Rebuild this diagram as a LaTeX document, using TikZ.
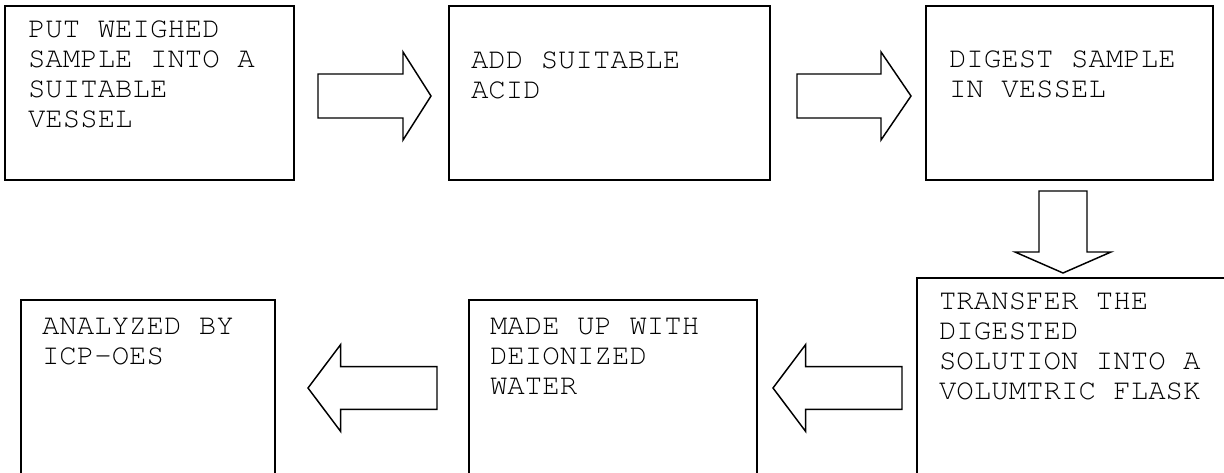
\documentclass[tikz,border=0pt]{standalone}
\usepackage{fontspec}
\setmainfont{TeX Gyre Cursor}
\usetikzlibrary{calc,fit}
\begin{document}
\begin{tikzpicture}[x=0.75pt,y=-0.75pt,
  box/.style={draw, line width=1.5pt, inner sep=0pt, outer sep=0pt, rectangle},
  txt/.style={anchor=base west, inner sep=0pt, outer sep=0pt, font=\fontsize{21.8pt}{22.5pt}\selectfont},
  barrow/.style n args={3}{draw, line width=1.1pt, line join=miter, to path={
    ($(\tikztostart)!#1!90:(\tikztotarget)$)
    -- ($(\tikztotarget)!#3!(\tikztostart)!#1!90:(\tikztotarget)$)
    -- ($(\tikztotarget)!#3!(\tikztostart)!#2!90:(\tikztotarget)$)
    -- (\tikztotarget)
    -- ($(\tikztotarget)!#3!(\tikztostart)!#2!-90:(\tikztotarget)$)
    -- ($(\tikztotarget)!#3!(\tikztostart)!#1!-90:(\tikztotarget)$)
    -- ($(\tikztostart)!#1!-90:(\tikztotarget)$)
    -- cycle}}]
\useasboundingbox (0,0) rectangle (1224,473);
\clip (0,0) rectangle (1224,473);

% boxes
\node[box, fit={(5,6) (294,180)}] (b1) {};
\node[box, fit={(449,6) (770,180)}] (b2) {};
\node[box, fit={(926,6) (1213,180)}] (b3) {};
\node[box, fit={(917,278) (1227,473.6)}] (b4) {};
\node[box, fit={(469,300) (757,485)}] (b5) {};
\node[box, fit={(21,300) (275,485)}] (b6) {};

% texts
\node[txt] (t1) at ($(b1.north west)+(23,32)$) {\begin{tabular}[t]{@{}l@{}}PUT WEIGHED\\SAMPLE INTO A\\SUITABLE\\VESSEL\end{tabular}};
\node[txt] (t2) at ($(b2.north west)+(22,63)$) {\begin{tabular}[t]{@{}l@{}}ADD SUITABLE\\ACID\end{tabular}};
\node[txt] (t3) at ($(b3.north west)+(23,62)$) {\begin{tabular}[t]{@{}l@{}}DIGEST SAMPLE\\IN VESSEL\end{tabular}};
\node[txt] (t4) at ($(b4.north west)+(22,32)$) {\begin{tabular}[t]{@{}l@{}}TRANSFER THE\\DIGESTED\\SOLUTION INTO A\\VOLUMTRIC FLASK\end{tabular}};
\node[txt] (t5) at ($(b5.north west)+(21,35)$) {\begin{tabular}[t]{@{}l@{}}MADE UP WITH\\DEIONIZED\\WATER\end{tabular}};
\node[txt] (t6) at ($(b6.north west)+(21,35)$) {\begin{tabular}[t]{@{}l@{}}ANALYZED BY\\ICP-OES\end{tabular}};

% block arrows
\coordinate (a1s) at (318,96);  \coordinate (a1e) at (431,96);
\coordinate (a2s) at (797,96);  \coordinate (a2e) at (911,96);
\coordinate (a3s) at (1063,191); \coordinate (a3e) at (1063,273);
\coordinate (a4s) at (902,388); \coordinate (a4e) at (773,388);
\coordinate (a5s) at (437,388); \coordinate (a5e) at (308,388);

\draw[barrow={16.5pt}{33pt}{21pt}] (a1s) to (a1e);
\draw[barrow={16.5pt}{33pt}{22.5pt}] (a2s) to (a2e);
\draw[barrow={18pt}{36pt}{15.75pt}] (a3s) to (a3e);
\draw[barrow={16.1pt}{32.6pt}{24.5pt}] (a4s) to (a4e);
\draw[barrow={16.1pt}{32.6pt}{24.5pt}] (a5s) to (a5e);
\end{tikzpicture}
\end{document}
